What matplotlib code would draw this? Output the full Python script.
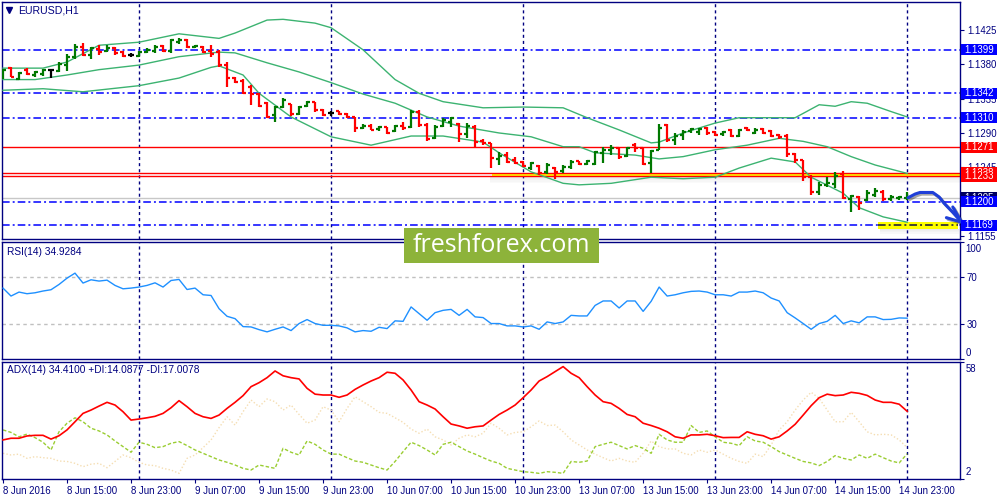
import matplotlib

matplotlib.use("Agg")
import matplotlib.pyplot as plt
import matplotlib.patheffects as pe
from matplotlib.patches import Rectangle
from matplotlib.transforms import blended_transform_factory

plt.rcParams['font.family'] = ['Liberation Sans', 'DejaVu Sans']
plt.rcParams['lines.scale_dashes'] = False

NAVY = '#000080'
FS = 6.9

# EURUSD H1 bars, 8 Jun 07:00 .. 15 Jun 00:00
OPEN = [1.1362, 1.1375, 1.1361, 1.1373, 1.1366, 1.1367, 1.1373, 1.1371, 1.1379, 1.1390,
        1.1403, 1.1392, 1.1400, 1.1397, 1.1401, 1.1396, 1.1392, 1.1391, 1.1396, 1.1397,
        1.1404, 1.1397, 1.1409, 1.1412, 1.1403, 1.1403, 1.1397, 1.1396, 1.1379, 1.1362,
        1.1358, 1.1350, 1.1341, 1.1329, 1.1314, 1.1324, 1.1328, 1.1315, 1.1325, 1.1331,
        1.1320, 1.1316, 1.1319, 1.1315, 1.1311, 1.1297, 1.1299, 1.1295, 1.1298, 1.1293,
        1.1299, 1.1298, 1.1318, 1.1300, 1.1283, 1.1299, 1.1304, 1.1302, 1.1289, 1.1298,
        1.1279, 1.1277, 1.1256, 1.1261, 1.1255, 1.1252, 1.1244, 1.1247, 1.1239, 1.1244,
        1.1240, 1.1245, 1.1253, 1.1249, 1.1249, 1.1264, 1.1268, 1.1270, 1.1260, 1.1274,
        1.1270, 1.1251, 1.1268, 1.1300, 1.1281, 1.1287, 1.1293, 1.1291, 1.1297, 1.1291,
        1.1289, 1.1294, 1.1286, 1.1297, 1.1290, 1.1295, 1.1293, 1.1287, 1.1286, 1.1262,
        1.1255, 1.1232, 1.1213, 1.1222, 1.1223, 1.1236, 1.1203, 1.1206, 1.1202, 1.1209,
        1.1213, 1.1203, 1.1205, 1.1205]
HIGH = [1.1374, 1.1377, 1.1370, 1.1375, 1.1371, 1.1374, 1.1374, 1.1383, 1.1394, 1.1407,
        1.1408, 1.1403, 1.1405, 1.1405, 1.1403, 1.1397, 1.1395, 1.1397, 1.1401, 1.1405,
        1.1405, 1.1413, 1.1414, 1.1413, 1.1405, 1.1404, 1.1405, 1.1399, 1.1383, 1.1363,
        1.1361, 1.1353, 1.1342, 1.1331, 1.1325, 1.1336, 1.1328, 1.1325, 1.1332, 1.1331,
        1.1321, 1.1319, 1.1319, 1.1316, 1.1311, 1.1302, 1.1302, 1.1299, 1.1298, 1.1300,
        1.1304, 1.1320, 1.1320, 1.1303, 1.1300, 1.1310, 1.1311, 1.1303, 1.1303, 1.1300,
        1.1282, 1.1277, 1.1265, 1.1265, 1.1259, 1.1253, 1.1252, 1.1248, 1.1251, 1.1245,
        1.1248, 1.1255, 1.1253, 1.1255, 1.1266, 1.1272, 1.1274, 1.1272, 1.1272, 1.1277,
        1.1272, 1.1268, 1.1302, 1.1302, 1.1290, 1.1294, 1.1297, 1.1297, 1.1298, 1.1293,
        1.1293, 1.1295, 1.1295, 1.1298, 1.1297, 1.1297, 1.1294, 1.1289, 1.1289, 1.1264,
        1.1255, 1.1235, 1.1226, 1.1232, 1.1239, 1.1240, 1.1209, 1.1207, 1.1215, 1.1218,
        1.1215, 1.1209, 1.1207, 1.1213]
LOW = [1.1361, 1.1363, 1.1360, 1.1366, 1.1363, 1.1365, 1.1362, 1.1370, 1.1371, 1.1387,
       1.1391, 1.1387, 1.1392, 1.1396, 1.1392, 1.1390, 1.1390, 1.1390, 1.1395, 1.1395,
       1.1396, 1.1395, 1.1407, 1.1401, 1.1401, 1.1395, 1.1390, 1.1377, 1.1350, 1.1356,
       1.1341, 1.1327, 1.1324, 1.1310, 1.1304, 1.1323, 1.1312, 1.1314, 1.1324, 1.1318,
       1.1312, 1.1312, 1.1314, 1.1310, 1.1291, 1.1295, 1.1294, 1.1293, 1.1289, 1.1291,
       1.1294, 1.1297, 1.1298, 1.1279, 1.1282, 1.1298, 1.1298, 1.1278, 1.1283, 1.1270,
       1.1274, 1.1244, 1.1248, 1.1251, 1.1249, 1.1245, 1.1241, 1.1235, 1.1236, 1.1230,
       1.1238, 1.1243, 1.1248, 1.1248, 1.1248, 1.1251, 1.1261, 1.1256, 1.1258, 1.1265,
       1.1248, 1.1238, 1.1268, 1.1278, 1.1274, 1.1281, 1.1290, 1.1287, 1.1287, 1.1286,
       1.1286, 1.1285, 1.1285, 1.1293, 1.1289, 1.1289, 1.1285, 1.1282, 1.1259, 1.1251,
       1.1227, 1.1209, 1.1209, 1.1219, 1.1218, 1.1203, 1.1186, 1.1189, 1.1201, 1.1206,
       1.1201, 1.1201, 1.1202, 1.1202]
CLOSE = [1.1373, 1.1363, 1.1369, 1.1367, 1.1370, 1.1373, 1.1373, 1.1380, 1.1390, 1.1403,
         1.1392, 1.1401, 1.1396, 1.1401, 1.1395, 1.1391, 1.1392, 1.1396, 1.1399, 1.1403,
         1.1397, 1.1412, 1.1412, 1.1403, 1.1404, 1.1396, 1.1394, 1.1379, 1.1362, 1.1357,
         1.1342, 1.1341, 1.1325, 1.1311, 1.1324, 1.1333, 1.1315, 1.1324, 1.1331, 1.1320,
         1.1314, 1.1316, 1.1315, 1.1311, 1.1297, 1.1299, 1.1294, 1.1298, 1.1290, 1.1299,
         1.1297, 1.1318, 1.1300, 1.1282, 1.1298, 1.1307, 1.1310, 1.1289, 1.1299, 1.1278,
         1.1277, 1.1257, 1.1260, 1.1252, 1.1251, 1.1247, 1.1251, 1.1238, 1.1248, 1.1239,
         1.1245, 1.1252, 1.1249, 1.1253, 1.1265, 1.1268, 1.1270, 1.1258, 1.1270, 1.1270,
         1.1249, 1.1266, 1.1296, 1.1281, 1.1286, 1.1291, 1.1295, 1.1295, 1.1290, 1.1287,
         1.1291, 1.1286, 1.1294, 1.1294, 1.1294, 1.1290, 1.1286, 1.1285, 1.1262, 1.1255,
         1.1232, 1.1213, 1.1222, 1.1224, 1.1234, 1.1205, 1.1207, 1.1198, 1.1211, 1.1214,
         1.1203, 1.1206, 1.1206, 1.1206]

# Bollinger bands, read at sample bars
BB_UP_X = [0, 5, 8, 12, 17, 22, 27, 29, 33, 35, 39, 41, 45, 49, 52, 55, 60, 65, 70, 73,
           77, 81, 82, 85, 89, 92, 99, 102, 104, 106, 108, 111, 113]
BB_UP = [1.1375, 1.1375, 1.1383, 1.1405, 1.1409, 1.1420, 1.1414, 1.1421, 1.1438, 1.1439,
         1.1434, 1.1428, 1.1399, 1.1360, 1.1342, 1.1331, 1.1323, 1.1324, 1.1323, 1.1310,
         1.1294, 1.1277, 1.1278, 1.1290, 1.1303, 1.1310, 1.1310, 1.1327, 1.1325, 1.1331,
         1.1329, 1.1318, 1.1311]
BB_MID_X = [0, 4, 8, 12, 17, 22, 27, 29, 33, 37, 41, 45, 49, 53, 57, 62, 66, 70, 72, 74,
            79, 82, 85, 89, 93, 97, 100, 103, 106, 109, 113]
BB_MID = [1.1360, 1.1360, 1.1366, 1.1373, 1.1379, 1.1390, 1.1396, 1.1395, 1.1382, 1.1370,
          1.1356, 1.1341, 1.1329, 1.1311, 1.1299, 1.1290, 1.1285, 1.1272, 1.1272, 1.1264,
          1.1261, 1.1256, 1.1259, 1.1268, 1.1274, 1.1283, 1.1279, 1.1272, 1.1259, 1.1248,
          1.1237]
BB_LO_X = [0, 5, 10, 17, 22, 26, 27, 30, 32, 36, 41, 46, 51, 55, 60, 62, 66, 70, 72, 76,
           81, 85, 89, 92, 96, 99, 101, 105, 107, 110, 113]
BB_LO = [1.1346, 1.1348, 1.1344, 1.1352, 1.1362, 1.1376, 1.1378, 1.1366, 1.1342, 1.1311,
         1.1285, 1.1274, 1.1286, 1.1286, 1.1278, 1.1264, 1.1239, 1.1224, 1.1222, 1.1224,
         1.1232, 1.1230, 1.1232, 1.1244, 1.1257, 1.1252, 1.1232, 1.1211, 1.1192, 1.1180,
         1.1173]

RSI = [60.6, 53.8, 57.2, 55.8, 56.6, 58.1, 59.2, 63.7, 69.1, 73.4,
       64.9, 67.7, 66.6, 67.4, 62.9, 60.0, 60.6, 61.5, 62.9, 65.1,
       61.5, 67.1, 68.0, 59.4, 60.6, 54.9, 54.3, 43.0, 36.5, 34.5,
       27.7, 27.4, 25.1, 23.2, 25.4, 27.4, 24.3, 30.3, 33.7, 30.3,
       28.8, 28.8, 28.3, 26.6, 23.2, 24.3, 23.7, 27.1, 26.0, 32.6,
       32.2, 44.5, 38.8, 33.1, 39.6, 41.6, 42.4, 37.3, 42.4, 36.0,
       35.4, 30.3, 30.3, 28.3, 28.3, 27.4, 28.3, 25.4, 31.7, 30.3,
       31.7, 37.3, 36.8, 36.8, 45.8, 49.6, 49.6, 43.6, 49.6, 49.6,
       40.7, 49.3, 61.5, 53.8, 54.9, 56.6, 57.8, 58.1, 57.2, 54.9,
       54.9, 53.8, 57.2, 57.2, 58.1, 56.6, 52.1, 49.6, 39.6, 35.1,
       30.3, 25.4, 30.3, 32.2, 37.3, 30.3, 32.6, 30.9, 36.0, 36.0,
       33.7, 33.9, 35.1, 34.9]

ADX = [20.7, 21.5, 21.5, 22.6, 22.9, 22.9, 21.1, 22.7, 25.5, 29.4,
       33.4, 35.0, 36.9, 38.7, 37.4, 34.2, 30.2, 30.7, 31.3, 32.0,
       33.4, 36.1, 39.5, 36.6, 33.4, 31.8, 31.0, 32.6, 35.8, 38.7,
       41.9, 46.2, 48.1, 50.5, 53.7, 51.4, 50.5, 49.9, 45.4, 42.6,
       42.2, 42.2, 41.1, 42.2, 44.9, 47.0, 48.9, 50.5, 53.1, 52.6,
       49.4, 44.6, 39.0, 37.4, 35.5, 31.8, 28.3, 27.4, 26.3, 27.0,
       27.4, 30.2, 32.9, 35.0, 37.4, 40.9, 44.6, 48.9, 51.0, 53.4,
       55.8, 52.6, 50.5, 46.2, 42.2, 39.0, 38.2, 35.8, 32.9, 31.8,
       28.7, 27.6, 26.3, 24.6, 22.2, 21.5, 23.1, 23.1, 23.4, 22.7,
       21.8, 21.9, 21.9, 24.6, 23.4, 22.7, 21.1, 22.2, 25.0, 28.2,
       32.6, 37.1, 40.9, 42.6, 41.9, 42.2, 43.5, 43.0, 42.0, 39.8,
       38.7, 38.7, 37.8, 34.4]
PLUS_DI = [25.5, 24.3, 22.2, 23.5, 21.8, 19.6, 15.9, 24.6, 28.7, 31.3,
           29.4, 26.3, 25.0, 23.1, 20.2, 17.5, 14.8, 19.6, 18.6, 17.0,
           17.5, 19.1, 19.9, 18.0, 15.9, 14.3, 12.7, 11.1, 10.0, 8.7,
           7.1, 6.3, 8.7, 7.9, 7.1, 16.7, 14.8, 13.5, 20.2, 18.6,
           15.9, 13.9, 13.9, 12.2, 10.6, 10.0, 8.7, 7.4, 6.3, 10.4,
           15.1, 19.6, 18.0, 15.9, 13.5, 18.6, 19.6, 17.5, 15.4, 13.9,
           12.2, 10.6, 9.5, 7.1, 6.3, 5.5, 5.2, 4.7, 5.5, 5.2,
           4.7, 10.4, 10.0, 10.6, 17.5, 18.6, 19.6, 18.0, 16.4, 18.0,
           16.7, 14.3, 23.4, 20.7, 19.6, 19.6, 27.6, 24.3, 25.0, 22.2,
           19.6, 19.1, 18.0, 22.2, 20.2, 19.6, 17.5, 15.1, 13.5, 11.9,
           10.4, 9.7, 8.4, 10.4, 13.2, 11.9, 11.1, 13.5, 11.9, 13.9,
           12.2, 10.6, 9.7, 14.1]
MINUS_DI = [14.3, 13.5, 13.9, 11.9, 12.7, 12.2, 11.9, 10.6, 10.4, 9.5,
            7.9, 9.1, 9.5, 7.4, 10.4, 13.5, 12.2, 10.0, 8.7, 8.4,
            7.1, 6.3, 4.7, 11.9, 13.5, 17.0, 20.7, 26.6, 31.8, 27.8,
            34.2, 39.8, 36.6, 40.3, 39.0, 35.0, 37.4, 32.9, 28.7, 30.2,
            36.6, 35.0, 29.4, 35.8, 41.4, 39.0, 36.6, 33.9, 33.4, 31.3,
            29.1, 25.9, 23.9, 25.9, 22.2, 20.7, 18.3, 21.5, 23.1, 22.2,
            23.9, 28.7, 26.3, 23.1, 24.3, 24.6, 27.0, 29.8, 27.6, 27.8,
            24.6, 20.7, 18.3, 15.9, 13.9, 12.2, 10.6, 11.9, 10.6, 10.0,
            14.3, 20.2, 17.5, 16.4, 16.4, 14.3, 13.5, 15.9, 14.8, 15.9,
            13.9, 11.9, 10.4, 9.5, 13.9, 12.7, 18.3, 25.5, 29.4, 35.0,
            39.8, 43.5, 40.6, 35.0, 29.4, 29.4, 33.9, 29.4, 24.6, 23.1,
            23.4, 23.1, 20.7, 17.0]

# horizontal levels drawn on the chart
BLUE_LEVELS = [1.1399, 1.1342, 1.1310, 1.1200, 1.1169]
RED_LEVELS = [1.1271, 1.1238, 1.1233]
BID = 1.1205
PRICE_TICKS = [1.1425, 1.1380, 1.1335, 1.1290, 1.1245, 1.1200, 1.1155]

# forecast arrow drawn by the analyst (bar index, price)
ARROW_X = [113.1, 114.0, 114.6, 116.2, 117.0, 117.6, 118.7, 119.8]
ARROW_Y = [1.1205, 1.1210, 1.1212, 1.1212, 1.1206, 1.1198, 1.1186, 1.1173]

X_TICKS = [0, 8, 16, 24, 32, 40, 48, 56, 64, 72, 80, 88, 96, 104, 112]
X_LABELS = ["8 Jun 2016", "8 Jun 15:00", "8 Jun 23:00", "9 Jun 07:00", "9 Jun 15:00",
            "9 Jun 23:00", "10 Jun 07:00", "10 Jun 15:00", "10 Jun 23:00",
            "13 Jun 07:00", "13 Jun 15:00", "13 Jun 23:00", "14 Jun 07:00",
            "14 Jun 15:00", "14 Jun 23:00"]
DAY_STARTS = [17, 41, 65, 89, 113]

XLIM = (-0.125, 119.6)
PRICE_LIM = (1.11510, 1.14617)

fig = plt.figure(figsize=(10, 5), dpi=100)
ax1 = fig.add_axes((0.002, 0.522, 0.958, 0.474))
ax2 = fig.add_axes((0.002, 0.282, 0.958, 0.234))
ax3 = fig.add_axes((0.002, 0.042, 0.958, 0.234))

for ax in (ax1, ax2, ax3):
    ax.set_xlim(*XLIM)
    for s in ax.spines.values():
        s.set_color(NAVY)
        s.set_linewidth(1)
    ax.yaxis.tick_right()
    ax.tick_params(axis='y', direction='out', length=3, color=NAVY,
                   labelcolor=NAVY, labelsize=FS, pad=2)
    for d in DAY_STARTS:
        ax.axvline(d, color=NAVY, lw=1, dashes=(2.2, 2.2), zorder=1)

# ---- price panel
ax1.set_ylim(*PRICE_LIM)
ax1.set_xticks([])
ax1.set_yticks(PRICE_TICKS)
# 1.1200 sits fully under its own level tag, as in the terminal
ax1.set_yticklabels(['' if v == 1.1200 else f"{v:.4f}" for v in PRICE_TICKS])
px = (PRICE_LIM[1] - PRICE_LIM[0]) / 237.0

for v in BLUE_LEVELS:
    ax1.axhline(v, color='#0000FF', lw=1.1, dashes=(5.5, 2.2, 1.4, 2.2), zorder=2)
for v in RED_LEVELS:
    ax1.axhline(v, color='#FF0000', lw=1, zorder=2.5)
ax1.axhline(BID, color='#c8c8c8', lw=1, zorder=1.5)

# yellow highlight between the red support lines + shadow
ax1.add_patch(Rectangle((61.1, RED_LEVELS[2]), XLIM[1] - 61.1,
                        RED_LEVELS[1] - RED_LEVELS[2], fc='#FFFF00', ec='none', zorder=1.8))
for k in range(5):
    ax1.add_patch(Rectangle((60.8, RED_LEVELS[2] - (k + 1) * 1.3 * px), XLIM[1] - 60.8,
                            1.3 * px, fc='#808080', ec='none', alpha=0.16 - 0.03 * k, zorder=1.7))
# yellow target marker at 1.1169
ax1.add_patch(Rectangle((109.4, BLUE_LEVELS[4] - 3.3 * px), 9.9, 6.6 * px,
                        fc='#FFFF00', ec='none', zorder=2.6, clip_on=False))
for k in range(4):
    ax1.add_patch(Rectangle((109.6, BLUE_LEVELS[4] - 3.3 * px - (k + 1) * 1.3 * px), 9.9,
                            1.3 * px, fc='#808080', ec='none', alpha=0.16 - 0.035 * k,
                            zorder=2.55, clip_on=False))
ax1.plot([109.4, 119.3], [BLUE_LEVELS[4]] * 2, color='#101040', lw=1.1,
         dashes=(5.5, 2.2, 1.4, 2.2), zorder=2.7, clip_on=False)

# Bollinger bands
for bx, by in ((BB_UP_X, BB_UP), (BB_MID_X, BB_MID), (BB_LO_X, BB_LO)):
    ax1.plot(bx, by, color='#3CB371', lw=1, zorder=3)

# OHLC bars
idx = list(range(len(CLOSE)))
cols = ['#007800' if c > o else ('#FF0000' if c < o else 'black')
        for o, c in zip(OPEN, CLOSE)]
ax1.vlines(idx, LOW, HIGH, colors=cols, lw=1.6, zorder=4)
ax1.hlines(OPEN, [i - 0.4 for i in idx], idx, colors=cols, lw=1.6, zorder=4)
ax1.hlines(CLOSE, idx, [i + 0.4 for i in idx], colors=cols, lw=1.6, zorder=4)

# forecast arrow
shadow = [pe.SimpleLineShadow(offset=(1.2, -1.2), alpha=0.35), pe.Normal()]
ax1.plot(ARROW_X, ARROW_Y, color='#1f3fd8', lw=2.2, solid_capstyle='round',
         solid_joinstyle='round', zorder=6, clip_on=False, path_effects=shadow)
ax1.plot([117.9, ARROW_X[-1], 118.7], [1.1179, ARROW_Y[-1], 1.1193], color='#1f3fd8',
         lw=2.2, solid_capstyle='round', zorder=6, clip_on=False, path_effects=shadow)

tr = blended_transform_factory(ax1.transAxes, ax1.transData)


def price_tag(value, text, color, z):
    h = 11 * px
    ax1.add_patch(Rectangle((1.0015, value - h / 2), 0.0375, h, transform=tr, fc=color,
                            ec='none', clip_on=False, zorder=z))
    ax1.text(1.0050, value, text, transform=tr, color='white', fontsize=FS, va='center',
             ha='left', zorder=z + 0.5, clip_on=False)


price_tag(RED_LEVELS[1], "1.1238", '#FF0000', 7)
price_tag(BID, "1.1205", '#000060', 7)
for v in BLUE_LEVELS:
    price_tag(v, f"{v:.4f}", '#0000FF', 9)
price_tag(RED_LEVELS[0], "1.1271", '#FF0000', 9)
price_tag(RED_LEVELS[2], "1.1233", '#FF0000', 9)

ax1.plot([0.0075], [0.966], marker='v', ms=4.5, color=NAVY, transform=ax1.transAxes)
ax1.text(0.0165, 0.966, "EURUSD,H1", transform=ax1.transAxes, color=NAVY,
         fontsize=7.6, va='center', ha='left')

# ---- RSI panel
ax2.set_ylim(0, 100)
ax2.set_xticks([])
ax2.set_yticks([0, 30, 70, 100])
ax2.set_yticklabels(['', '30', '70', ''])
for lv in (30, 70):
    ax2.axhline(lv, color='#c0c0c0', lw=1, dashes=(2.5, 2.5), zorder=1)
ax2.plot(idx, RSI, color='#1E90FF', lw=1, zorder=3)
ax2.text(1.0055, 0.94, "100", transform=ax2.transAxes, color=NAVY, fontsize=FS,
         va='center', ha='left')
ax2.text(1.0055, 0.055, "0", transform=ax2.transAxes, color=NAVY, fontsize=FS,
         va='center', ha='left')
ax2.text(0.005, 0.915, "RSI(14) 34.9284", transform=ax2.transAxes, color=NAVY,
         fontsize=7.3, va='center', ha='left')

# ---- ADX panel
ax3.set_ylim(2, 58)
ax3.set_yticks([2, 58])
ax3.set_yticklabels(['', ''])
ax3.plot(idx, MINUS_DI, color='#F5DEB3', lw=1, dashes=(1, 1.5), zorder=2)
ax3.plot(idx, PLUS_DI, color='#9ACD32', lw=1, dashes=(2.5, 1.5), zorder=2.5)
ax3.plot(idx, ADX, color='#FF0000', lw=1.2, zorder=3)
ax3.text(1.0055, 0.94, "58", transform=ax3.transAxes, color=NAVY, fontsize=FS,
         va='center', ha='left')
ax3.text(1.0055, 0.06, "2", transform=ax3.transAxes, color=NAVY, fontsize=FS,
         va='center', ha='left')
ax3.text(0.005, 0.93, "ADX(14) 34.4100 +DI:14.0877 -DI:17.0078", transform=ax3.transAxes,
         color=NAVY, fontsize=7.3, va='center', ha='left')
ax3.set_xticks(X_TICKS)
ax3.set_xticklabels(X_LABELS)
ax3.tick_params(axis='x', direction='out', length=3, color=NAVY, labelcolor=NAVY,
                labelsize=FS, pad=2)
for lbl in ax3.get_xticklabels():
    lbl.set_ha('left')

# watermark
fig.add_artist(Rectangle((0.404, 0.474), 0.195, 0.07, transform=fig.transFigure,
                         fc='#8db33a', ec='none', zorder=20))
fig.text(0.5015, 0.508, "freshforex.com", color='white', fontsize=18,
         family='Open Sans', ha='center', va='center', zorder=21)

fig.savefig("out.png", dpi=100, facecolor='white')
